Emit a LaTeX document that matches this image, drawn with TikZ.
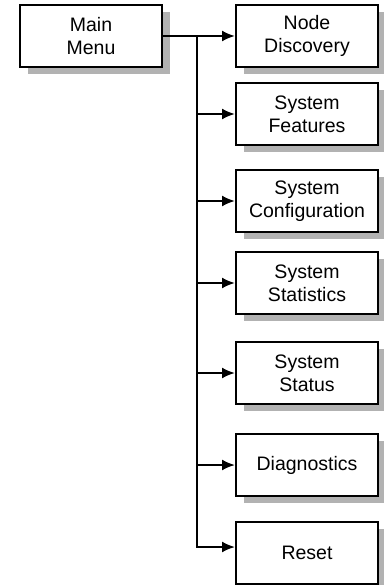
\documentclass[tikz,border=0pt]{standalone}
\usepackage{fontspec}
\setmainfont{Liberation Sans}
\usepackage{tikz}
\usetikzlibrary{arrows.meta,calc,positioning,shadows}

\begin{document}
\begin{tikzpicture}[
      menubox/.style={draw=black, line width=2pt, fill=white,
        minimum width=142pt, minimum height=62pt, align=center,
        font=\fontsize{19.5}{23}\selectfont,
        drop shadow={shadow xshift=8pt, shadow yshift=-7pt,
          fill=black!30, opacity=1}},
      arrow/.style={-{Latex[length=13pt, width=11pt]}, line width=2pt, draw=black}
    ]
    \node[menubox] (main) {Main\\Menu};
    \node[menubox, right=72pt of main] (discovery) {Node\\Discovery};
    \node[menubox, below=14pt of discovery] (features) {System\\Features};
    \node[menubox, below=23pt of features] (config) {System\\Configuration};
    \node[menubox, below=18pt of config] (statistics) {System\\Statistics};
    \node[menubox, below=26pt of statistics] (status) {System\\Status};
    \node[menubox, below=28pt of status] (diagnostics) {Diagnostics};
    \node[menubox, below=24pt of diagnostics] (reset) {Reset};

    \useasboundingbox ($(main.north west)+(-19pt,4pt)$) rectangle ++(383pt,-585pt);

    \coordinate (split) at ($(main.east)+(34pt,0)$);
    \coordinate (resetin) at ([yshift=6pt]reset.west);

    \draw[arrow] (main) -- (discovery);
    \draw[arrow] (split) |- (features);
    \draw[arrow] (split) |- (config);
    \draw[arrow] (split) |- (statistics);
    \draw[arrow] (split) |- (status);
    \draw[arrow] (split) |- (diagnostics);
    \draw[arrow] (split) |- (resetin);
  \end{tikzpicture}
\end{document}
